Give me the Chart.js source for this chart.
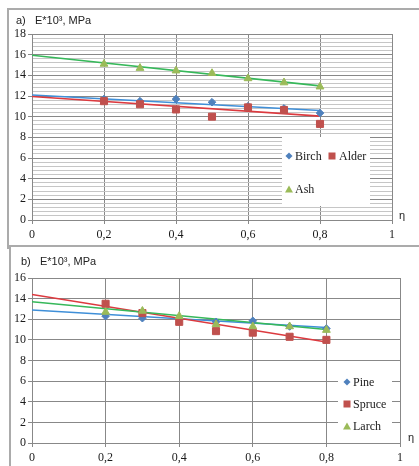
<!DOCTYPE html>
<html>
<head>
<meta charset="utf-8">
<title>E modulus vs eta</title>
<script src="https://cdn.jsdelivr.net/npm/chart.js@4.4.1/dist/chart.umd.min.js"></script>
<style>
  html, body { margin: 0; padding: 0; background: #fff; }
  body { width: 419px; height: 466px; position: relative; overflow: hidden; }
  .panel { position: absolute; border: 2px solid #ababab; background: #fff; }
  canvas { position: absolute; }
  .title { position: absolute; font: 11px "Liberation Sans", Arial, sans-serif; color: #222; white-space: pre; line-height: 13px; }
  .eta { position: absolute; font: 11px "Liberation Sans", Arial, sans-serif; color: #222; line-height: 13px; }
  .legend { position: absolute; background: #fff; }
  .item { position: absolute; font: 12px "Liberation Serif", "Times New Roman", serif; color: #1a1a1a; line-height: 14px; white-space: nowrap; }
  .mk { position: absolute; transform: translate(-50%, -50%); }
  .mk-diamond { width: 5px; height: 5px; background: #4f81bd; transform: translate(-50%, -50%) rotate(45deg); }
  .mk-square { width: 7px; height: 7px; background: #c0504d; }
  .mk-tri { width: 0; height: 0; border-left: 4px solid transparent; border-right: 4px solid transparent; border-bottom: 7px solid #9bbb59; }
</style>
</head>
<body>

<!-- panel a -->
<div class="panel" style="left:7px; top:8px; width:440px; height:237px; border-right:none;"></div>
<canvas id="chartA" width="400" height="238" style="left:8px; top:9px;"></canvas>
<div class="title" style="left:16px; top:14px;">a)   E*10³, MPa</div>
<div class="eta" style="left:399px; top:209px;">η</div>
<div class="legend" style="left:282px; top:137px; width:88px; height:69px;"></div>
<div class="mk mk-diamond" style="left:289px; top:156px;"></div>
<div class="item" style="left:295px; top:149px;">Birch</div>
<div class="mk mk-square" style="left:332px; top:156px;"></div>
<div class="item" style="left:339px; top:149px;">Alder</div>
<div class="mk mk-tri" style="left:289px; top:189px;"></div>
<div class="item" style="left:295px; top:182px;">Ash</div>

<!-- panel b -->
<div class="panel" style="left:9px; top:245px; width:440px; height:260px; border-right:none;"></div>
<canvas id="chartB" width="400" height="218" style="left:10px; top:248px;"></canvas>
<div class="title" style="left:21px; top:255px;">b)   E*10³, MPa</div>
<div class="eta" style="left:408px; top:431px;">η</div>
<div class="legend" style="left:338px; top:371px; width:54px; height:64px;"></div>
<div class="mk mk-diamond" style="left:347px; top:382px;"></div>
<div class="item" style="left:353px; top:375px;">Pine</div>
<div class="mk mk-square" style="left:347px; top:404px;"></div>
<div class="item" style="left:353px; top:397px;">Spruce</div>
<div class="mk mk-tri" style="left:347px; top:426px;"></div>
<div class="item" style="left:353px; top:419px;">Larch</div>

<script>
// ==========================================================
// data
// ==========================================================
const eta = [0.2, 0.3, 0.4, 0.5, 0.6, 0.7, 0.8];
const trendEta = [0, 0.8];

// a) hardwoods
const birch = [11.7, 11.5, 11.7, 11.4, 11.0, 10.8, 10.35];
const alder = [11.5, 11.2, 10.7, 10.0, 10.9, 10.65, 9.3];
const ash = [15.1, 14.7, 14.45, 14.2, 13.7, 13.3, 12.9];
const birchTrend = [12.1, 10.6];
const alderTrend = [11.95, 10.05];
const ashTrend = [15.95, 12.98];

// b) softwoods
const pine = [12.3, 12.1, 12.0, 11.75, 11.85, 11.3, 11.1];
const spruce = [13.5, 12.6, 11.75, 10.85, 10.7, 10.3, 10.0];
const larch = [12.7, 12.8, 12.3, 11.5, 11.3, 11.3, 10.95];
const pineTrend = [12.9, 11.2];
const spruceTrend = [14.4, 9.8];
const larchTrend = [13.7, 11.0];

// axis ranges
const xTicks = { min: 0, max: 1, step: 0.2 };
const yTicksA = { min: 0, max: 18, step: 0.4, major: 2 };
const yTicksB = { min: 0, max: 16, step: 2, major: 2 };

// ==========================================================
// helpers
// ==========================================================
const BLUE = '#4f81bd', RED = '#c0504d', GREEN = '#9bbb59';
const BLUE_LINE = '#3f8fd8', RED_LINE = '#dc3a3f', GREEN_LINE = '#36b85a';

function pairs(xs, ys) {
  return xs.map(function(x, i) { return { x: x, y: ys[i] }; });
}

function comma(v) {
  return String(Math.round(v * 10) / 10).replace('.', ',');
}

function isMajor(v, major) {
  const r = v / major;
  return Math.abs(r - Math.round(r)) < 1e-6;
}

function pointSet(label, ys, color, style, radius, order) {
  return {
    label: label,
    data: pairs(eta, ys),
    showLine: false,
    pointStyle: style,
    pointRadius: radius,
    pointBackgroundColor: color,
    pointBorderColor: color,
    pointBorderWidth: 1,
    order: order
  };
}

function trendSet(ys, color, order) {
  return {
    data: pairs(trendEta, ys),
    showLine: true,
    borderColor: color,
    borderWidth: 1.6,
    pointRadius: 0,
    order: order
  };
}

function makeChart(id, datasets, yt, layout) {
  const tickFont = { family: '"Liberation Serif", "Times New Roman", serif', size: 12 };
  return new Chart(document.getElementById(id), {
    type: 'scatter',
    data: { datasets: datasets },
    options: {
      responsive: false,
      devicePixelRatio: 1,
      animation: false,
      layout: { padding: { top: layout.top, right: layout.right, left: 0, bottom: 0 } },
      plugins: { legend: { display: false }, tooltip: { enabled: false } },
      scales: {
        x: {
          type: 'linear',
          min: xTicks.min,
          max: xTicks.max,
          afterFit: function(s) { s.height = layout.xh; },
          border: { color: '#888888', width: 1 },
          grid: { color: '#888888', lineWidth: 1, tickLength: 4, tickColor: '#888888' },
          ticks: {
            stepSize: xTicks.step,
            padding: 4,
            color: '#1a1a1a',
            font: tickFont,
            maxRotation: 0,
            autoSkip: false,
            callback: function(v) { return comma(v); }
          }
        },
        y: {
          type: 'linear',
          min: yt.min,
          max: yt.max,
          afterFit: function(s) { s.width = layout.yw; },
          border: { color: '#888888', width: 1 },
          grid: {
            lineWidth: 1,
            tickLength: 4,
            color: function(ctx) {
              return isMajor(ctx.tick.value, yt.major) ? '#888888' : '#c6c6c6';
            },
            tickColor: function(ctx) {
              return isMajor(ctx.tick.value, yt.major) ? '#888888' : 'rgba(0,0,0,0)';
            }
          },
          ticks: {
            stepSize: yt.step,
            padding: 2,
            color: '#1a1a1a',
            font: tickFont,
            autoSkip: false,
            callback: function(v) { return isMajor(v, yt.major) ? String(Math.round(v)) : ''; }
          }
        }
      }
    }
  });
}

// ==========================================================
// chart a
// ==========================================================
makeChart('chartA', [
  pointSet('Ash', ash, GREEN, 'triangle', 4.5, 1),
  pointSet('Alder', alder, RED, 'rect', 5, 2),
  pointSet('Birch', birch, BLUE, 'rectRot', 3.8, 3),
  trendSet(ashTrend, GREEN_LINE, 4),
  trendSet(alderTrend, RED_LINE, 5),
  trendSet(birchTrend, BLUE_LINE, 6)
], yTicksA, { top: 25, right: 16, xh: 27, yw: 24 });

// ==========================================================
// chart b
// ==========================================================
makeChart('chartB', [
  pointSet('Larch', larch, GREEN, 'triangle', 4.5, 1),
  pointSet('Spruce', spruce, RED, 'rect', 5, 2),
  pointSet('Pine', pine, BLUE, 'rectRot', 3.8, 3),
  trendSet(larchTrend, GREEN_LINE, 4),
  trendSet(spruceTrend, RED_LINE, 5),
  trendSet(pineTrend, BLUE_LINE, 6)
], yTicksB, { top: 30, right: 10, xh: 23, yw: 22 });
</script>
</body>
</html>
